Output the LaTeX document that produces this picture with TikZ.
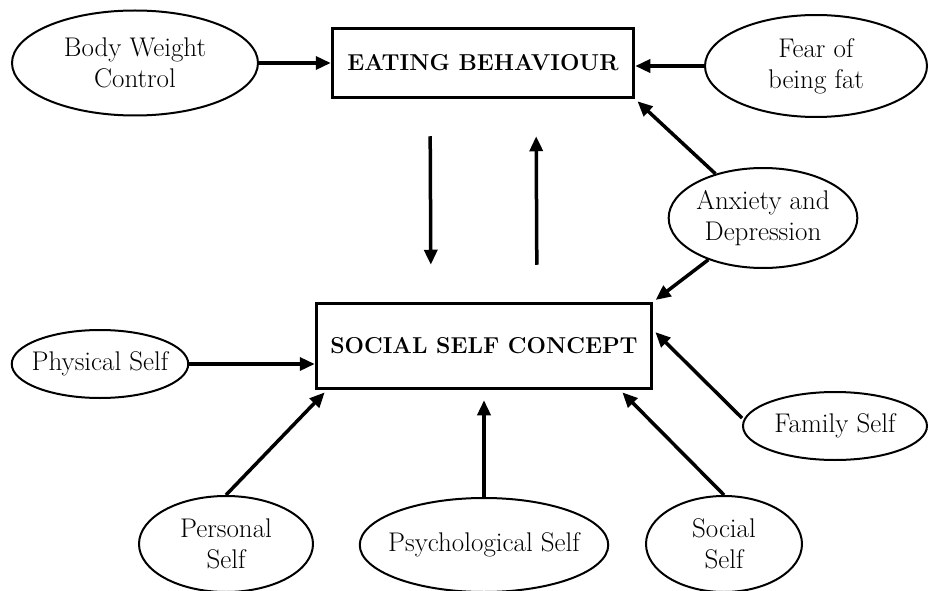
\documentclass[tikz,border=0pt]{standalone}
\usepackage{fontspec}
\usepackage{tikz}
\usetikzlibrary{arrows.meta, shapes.geometric}

\begin{document}
\begin{tikzpicture}[x=1pt, y=-1pt,
  oval/.style={ellipse, draw, line width=2pt, inner sep=0pt, align=center,
    font=\fontsize{27}{31}\selectfont},
  factor/.style={rectangle, draw, line width=3.5pt, inner sep=0pt,
    font=\fontsize{23}{28}\selectfont\bfseries},
  link/.style={line width=3.5pt, -{Triangle[length=15pt, width=13pt]}}]

  \useasboundingbox (0, 0) rectangle (929, 591);

  % the two main boxes
  \node[factor, minimum width=301pt, minimum height=69pt] (eating) at (483, 63) {EATING BEHAVIOUR};
  \node[factor, minimum width=335pt, minimum height=85pt] (social) at (484, 346) {SOCIAL SELF CONCEPT};

  \node[oval, minimum width=246pt, minimum height=105pt] (weight) at (135, 63) {Body Weight\\Control};
  \node[oval, minimum width=222pt, minimum height=102pt] (fear) at (816, 66) {Fear of\\being fat};
  \node[oval, minimum width=188pt, minimum height=100pt] (anxiety) at (763, 218) {Anxiety and\\Depression};
  \node[oval, inner xsep=-6pt, minimum width=176pt, minimum height=68pt] (physical) at (100, 364) {Physical Self};
  \node[oval, inner xsep=-2pt, minimum width=184pt, minimum height=68pt] (family) at (835, 426) {Family Self};
  \node[oval, minimum width=174pt, minimum height=96pt] (personal) at (226, 544) {Personal\\Self};
  \node[oval, inner xsep=-8pt, minimum width=246pt, minimum height=94pt] (psych) at (484, 545) {Psychological Self};
  \node[oval, minimum width=156pt, minimum height=96pt] (socself) at (724, 544) {Social\\Self};

  \draw[link] (weight.east) -- (eating.west);
  \draw[link] (fear.west) -- (eating.east |- fear.west);
  \draw[link, shorten <=37pt, shorten >=37pt] ([xshift=-53pt]eating.south) -- ([xshift=-53pt]social.north);
  \draw[link, shorten <=37pt, shorten >=37pt] ([xshift=53pt]social.north) -- ([xshift=53pt]eating.south);
  \draw[link, shorten >=3pt] (anxiety) -- (eating.south east);
  \draw[link, shorten >=3pt] (anxiety) -- (social.north east);

  % self concept parts
  \draw[link] (physical.east) -- (physical.east -| social.west);
  \draw[link, shorten >=3pt] ([yshift=8pt]family.west) -- ([yshift=16pt]social.east);
  \draw[link, shorten >=3pt] (personal.north) -- ([xshift=12pt]social.south west);
  \draw[link, shorten >=10pt] (psych.north) -- (psych.north |- social.south);
  \draw[link, shorten >=3pt] (socself.north) -- ([xshift=-33pt]social.south east);

\end{tikzpicture}
\end{document}
